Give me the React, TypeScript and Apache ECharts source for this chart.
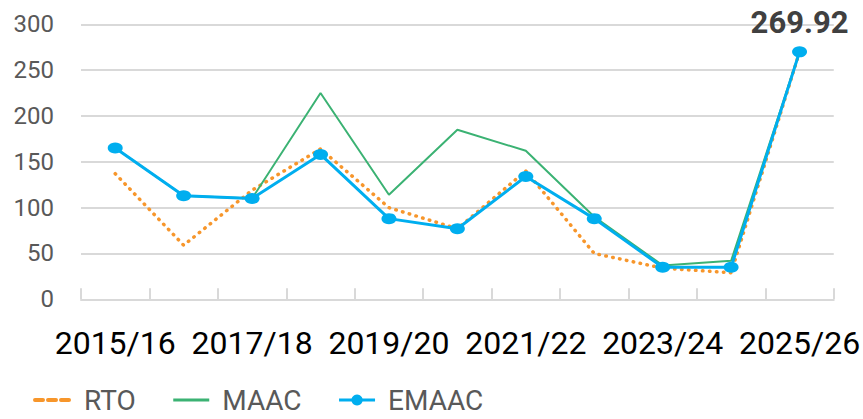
import React, { useEffect, useRef } from "react";
import * as echarts from "echarts";

const categories = [
  "2015/16", "2016/17", "2017/18", "2018/19", "2019/20", "2020/21",
  "2021/22", "2022/23", "2023/24", "2024/25", "2025/26",
];
const rtoValues = [137, 59, 119, 164, 100, 77, 140, 50, 34, 29, 269.92];
const maacValues = [165, 113, 110, 225, 114, 185, 162, 90, 37, 42, 269.92];
const emaacValues = [165, 113, 110, 158, 88, 77, 134, 88, 35, 35, 269.92];
const seriesNames = ["RTO", "MAAC", "EMAAC"];
const highlightIndex = 10;

const ORANGE = "#F7962B";
const GREEN = "#3BB273";
const BLUE = "#00AEEF";
const FONT = "Roboto";

export default function App() {
  const ref = useRef<HTMLDivElement>(null);
  useEffect(() => {
    if (!ref.current) return;
    const chart = echarts.init(ref.current, null, { renderer: "svg" });
    chart.setOption({
      animation: false,
      grid: { left: 81, right: 27, top: 24.3, bottom: 119.7, containLabel: false },
      legend: {
        left: 33,
        top: 386,
        padding: 0,
        itemWidth: 36,
        itemHeight: 14,
        itemGap: 36,
        textStyle: { fontFamily: FONT, fontSize: 28, color: "#595959", padding: [0, 0, 0, 8] },
        data: [
          { name: seriesNames[0], itemStyle: { opacity: 0 }, lineStyle: { type: [8, 5], width: 4, color: ORANGE } },
          { name: seriesNames[1], itemStyle: { opacity: 0 }, lineStyle: { width: 3, color: GREEN } },
          { name: seriesNames[2], lineStyle: { width: 3, color: BLUE } },
        ],
      },
      xAxis: {
        type: "category",
        data: categories,
        boundaryGap: true,
        axisLine: { show: true, lineStyle: { color: "#D9D9D9", width: 2 } },
        axisTick: { show: true, inside: true, length: 11, interval: 0, lineStyle: { color: "#D9D9D9", width: 2 } },
        axisLabel: { interval: 1, fontFamily: FONT, fontSize: 32, color: "#000000", margin: 28 },
        splitLine: { show: false },
      },
      yAxis: {
        type: "value",
        min: 0,
        max: 300,
        interval: 50,
        axisLine: { show: false },
        axisTick: { show: false },
        axisLabel: { fontFamily: FONT, fontSize: 24, color: "#595959", margin: 27, padding: [0, 0, 7, 0] },
        splitLine: { lineStyle: { color: "#D9D9D9", width: 2 } },
      },
      series: [
        {
          name: seriesNames[0],
          type: "line",
          data: rtoValues,
          symbol: "none",
          lineStyle: { color: ORANGE, width: 3.5, type: [0.5, 6.5], cap: "round" },
          itemStyle: { color: ORANGE },
          z: 2,
        },
        {
          name: seriesNames[1],
          type: "line",
          data: maacValues,
          symbol: "none",
          lineStyle: { color: GREEN, width: 2 },
          itemStyle: { color: GREEN },
          z: 3,
        },
        {
          name: seriesNames[2],
          type: "line",
          data: emaacValues.map((v, i) =>
            i === highlightIndex
              ? {
                  value: v,
                  label: {
                    show: true,
                    position: "top",
                    distance: 8,
                    fontFamily: FONT,
                    fontSize: 31,
                    fontWeight: "bold",
                    color: "#404040",
                  },
                }
              : v
          ),
          symbol: "circle",
          symbolSize: [15, 11],
          lineStyle: { color: BLUE, width: 3 },
          itemStyle: { color: BLUE },
          z: 4,
        },
      ],
    });
    return () => chart.dispose();
  }, []);
  return (
    <div
      ref={ref}
      style={{ position: "fixed", left: 0, top: 0, width: 863, height: 419, background: "#fff" }}
    />
  );
}
